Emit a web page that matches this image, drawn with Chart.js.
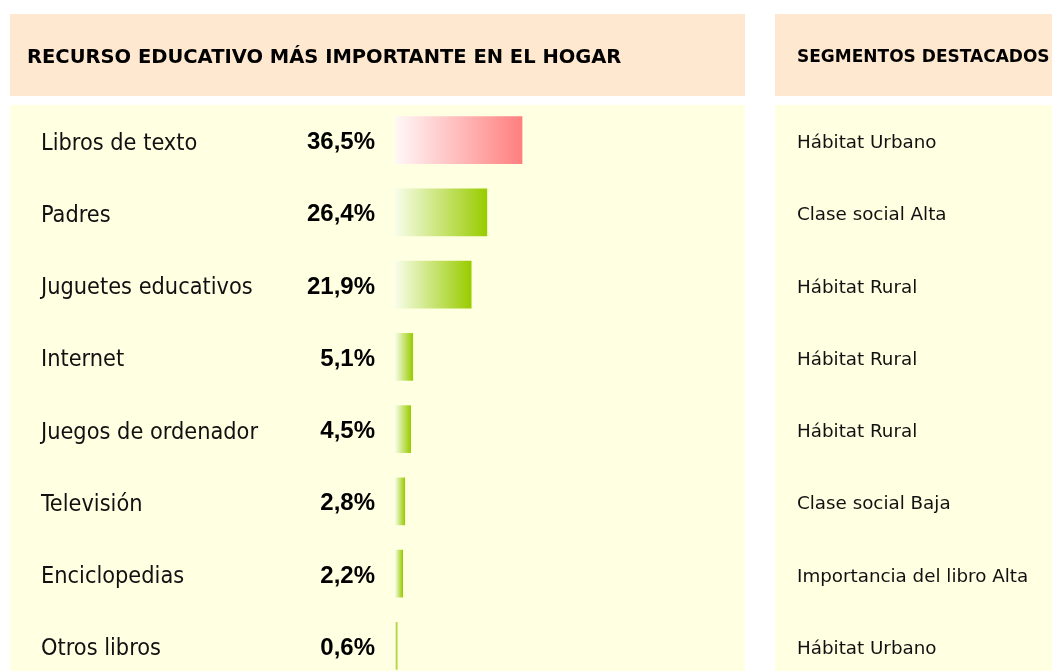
<!DOCTYPE html>
<html lang="es">
<head>
<meta charset="utf-8">
<title>Recurso educativo más importante en el hogar</title>
<script src="https://cdn.jsdelivr.net/npm/chart.js@4/dist/chart.umd.min.js"></script>
<style>
  html, body { margin: 0; padding: 0; background: #ffffff; }
  #wrap { width: 1052px; height: 671px; overflow: hidden; position: relative; }
  canvas { display: block; }
</style>
</head>
<body>
<div id="wrap"><canvas id="chart" width="1052" height="690"></canvas></div>
<script>
// Recursos educativos y su porcentaje de menciones
const categories = [
  'Libros de texto', 'Padres', 'Juguetes educativos', 'Internet',
  'Juegos de ordenador', 'Televisión', 'Enciclopedias', 'Otros libros'
];
const values = [36.5, 26.4, 21.9, 5.1, 4.5, 2.8, 2.2, 0.6];
const segments = [
  'Hábitat Urbano', 'Clase social Alta', 'Hábitat Rural', 'Hábitat Rural',
  'Hábitat Rural', 'Clase social Baja', 'Importancia del libro Alta', 'Hábitat Urbano'
];
const titleLeft = 'RECURSO EDUCATIVO MÁS IMPORTANTE EN EL HOGAR';
const titleRight = 'SEGMENTOS DESTACADOS';

const FONT_COND = '"DejaVu Sans Condensed", "DejaVu Sans", sans-serif';
const FONT_WIDE = '"DejaVu Sans", sans-serif';
const FONT_NUM = '"Liberation Sans", Arial, sans-serif';
const HEADER_BG = '#FFE8D0';
const BODY_BG = '#FFFFE2';
const maxValue = Math.max(...values);

function fmt(v) { return v.toFixed(1).replace('.', ',') + '%'; }

// Panels, headers and text columns drawn around the bars
const panels = {
  id: 'panels',
  beforeDraw(chart) {
    const c = chart.ctx;
    c.save();
    c.fillStyle = '#ffffff';
    c.fillRect(0, 0, chart.width, chart.height);
    c.fillStyle = HEADER_BG;
    c.fillRect(10, 14, 735, 82);
    c.fillRect(775, 14, 277, 82);
    c.fillStyle = BODY_BG;
    c.fillRect(10, 105, 735, chart.height - 105);
    c.fillRect(775, 105, 277, chart.height - 105);
    c.restore();
  },
  afterDraw(chart) {
    const c = chart.ctx;
    const y = chart.scales.y;
    c.save();
    c.fillStyle = '#000000';
    c.textBaseline = 'alphabetic';
    c.textAlign = 'left';
    c.font = 'bold 19.5px ' + FONT_WIDE;
    c.fillText(titleLeft, 27, 63);
    c.font = 'bold 17px ' + FONT_WIDE;
    c.fillText(titleRight, 797, 62);
    categories.forEach((cat, i) => {
      const cy = y.getPixelForValue(i);
      c.fillStyle = '#111111';
      c.textAlign = 'left';
      c.font = '23.3px ' + FONT_COND;
      c.fillText(cat, 41, cy + 9.5);
      c.font = '18.3px ' + FONT_WIDE;
      c.fillText(segments[i], 797, cy + 8);
      c.fillStyle = '#000000';
      c.textAlign = 'right';
      c.font = 'bold 24px ' + FONT_NUM;
      c.fillText(fmt(values[i]), 375, cy + 9);
    });
    c.restore();
  }
};

function barFill(ctx) {
  const chart = ctx.chart;
  if (!chart.chartArea) return 'transparent';
  const xs = chart.scales.x;
  const x0 = xs.getPixelForValue(0);
  const x1 = xs.getPixelForValue(ctx.raw);
  const g = chart.ctx.createLinearGradient(x0, 0, Math.max(x1, x0 + 1), 0);
  if (ctx.raw === maxValue) {
    g.addColorStop(0, '#FFF8F8');
    g.addColorStop(1, '#FF7F7F');
  } else {
    g.addColorStop(0, '#F8FDEA');
    g.addColorStop(1, '#99CC00');
  }
  return g;
}

new Chart(document.getElementById('chart'), {
  type: 'bar',
  data: {
    labels: categories,
    datasets: [{ data: values, backgroundColor: barFill, borderWidth: 0, barThickness: 47 }]
  },
  options: {
    indexAxis: 'y',
    responsive: false,
    animation: false,
    layout: { padding: { left: 395, right: 309, top: 104, bottom: 8 } },
    plugins: { legend: { display: false }, tooltip: { enabled: false } },
    scales: {
      x: { display: false, min: 0, max: 100 },
      y: { display: false }
    }
  },
  plugins: [panels]
});
</script>
</body>
</html>
